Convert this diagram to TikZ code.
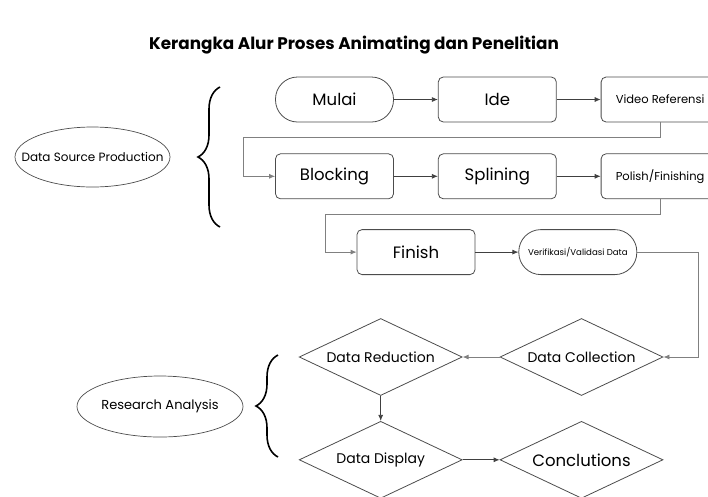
\documentclass[tikz,border=0pt]{standalone}
\usepackage{fontspec}
\setmainfont{Poppins}
\usepackage{tikz}
\usetikzlibrary{calc,arrows.meta,positioning,shapes.geometric,decorations.pathreplacing}
\tikzset{
  procbox/.style={draw=black!70, line width=0.8pt, rounded corners=5pt, align=center,
    minimum width=118pt, minimum height=45pt, inner sep=2pt, font=\fontsize{16.5}{18}\selectfont},
  termbox/.style={procbox, rounded corners=22pt},
  smallbox/.style={procbox, font=\fontsize{11.5}{13}\selectfont},
  decision/.style={draw=black!70, line width=0.8pt, diamond, aspect=2.1, inner sep=0pt,
    minimum width=163pt, minimum height=77pt, font=\fontsize{14}{16}\selectfont},
  tagoval/.style={draw=black!70, line width=0.7pt, ellipse, inner xsep=-25pt, inner ysep=0pt,
    font=\fontsize{12}{14}\selectfont},
  arr/.style={-{Latex[length=6pt,width=5pt]}, line width=0.8pt, draw=black!75},
  stepline/.style={arr, draw=black!50},
  bracket/.style={decorate, decoration={brace, amplitude=22pt}, line width=1.6pt}
}

\begin{document}
\begin{tikzpicture}[x=1pt, y=-1pt, node distance=44pt]
  \useasboundingbox (0,0) rectangle (708,496);

  \node[font=\fontsize{16.8}{18}\selectfont\bfseries] (title) at (354,45)
    {Kerangka Alur Proses Animating dan Penelitian};

  % ---- Production rows ----
  \node[termbox] (mulai) at (334.5,99.5) {Mulai};
  \node[procbox, right=of mulai] (ide) {Ide};
  \node[smallbox, right=of ide] (video) {Video Referensi};

  \node[procbox, below=31pt of mulai] (blocking) {Blocking};
  \node[procbox, right=of blocking] (splining) {Splining};
  \node[smallbox, right=of splining] (polish) {Polish/Finishing};

  \node[procbox, below=30pt of blocking, xshift=81.5pt] (finish) {Finish};
  \node[termbox, right=43pt of finish, font=\fontsize{8.6}{10}\selectfont] (verif) {Verifikasi/Validasi Data};

  \draw[arr] (mulai) -- (ide);
  \draw[arr] (ide) -- (video);
  \draw[stepline] (video.south) -- ++(0,15) -| ([xshift=-32pt]blocking.west) -- (blocking.west);
  \draw[arr] (blocking) -- (splining);
  \draw[arr] (splining) -- (polish);
  \draw[stepline] (polish.south) -- ++(0,15) -| ([xshift=-31pt]finish.west) -- (finish.west);
  \draw[arr] (finish) -- (verif);

  % ---- Analysis diamonds ----
  \node[decision] (collect) at (581.5,357) {Data Collection};
  \node[decision, left=37pt of collect] (reduce) {Data Reduction};
  \node[decision, below=25pt of reduce] (display) {Data Display};
  \node[decision, right=37pt of display, font=\fontsize{16.5}{18}\selectfont] (conclude) {Conclutions};

  \draw[stepline] (verif.east) -| ([xshift=35pt]collect.east) -- (collect.east);
  \draw[stepline] (collect) -- (reduce);
  \draw[arr] (reduce) -- (display);
  \draw[arr] (display) -- (conclude);

  % ---- Side labels with braces ----
  \node[tagoval, minimum width=155pt, minimum height=60pt, inner ysep=14pt] (dsp) at (92.5,157) {Data Source Production};
  \node[tagoval, minimum width=166pt, minimum height=61pt, inner ysep=14pt, font=\fontsize{13}{15}\selectfont] (ra) at (160,406.5) {Research Analysis};

  \coordinate (dspLow) at (220,227);
  \coordinate (dspHigh) at (220,87);
  \draw[bracket] (dspLow) -- (dspHigh);
  \coordinate (raLow) at (278,457);
  \coordinate (raHigh) at (278,355);
  \draw[bracket] (raLow) -- (raHigh);

\end{tikzpicture}
\end{document}
